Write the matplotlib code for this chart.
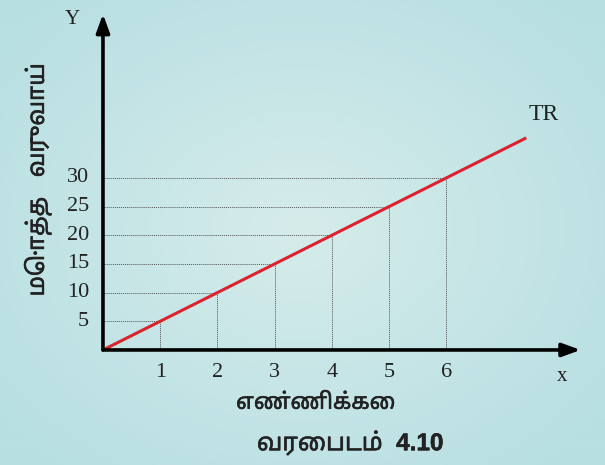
import numpy as np
import matplotlib
matplotlib.use("Agg")
import matplotlib.pyplot as plt
import matplotlib.patheffects as pe
from matplotlib import font_manager
from matplotlib import ft2font

# ---- data ----
quantity = [1, 2, 3, 4, 5, 6]
total_revenue = [5, 10, 15, 20, 25, 30]
tr_line_x = [0, 7.4]
tr_line_y = [0, 37]
x_tick_labels = ["1", "2", "3", "4", "5", "6"]
y_tick_labels = ["5", "10", "15", "20", "25", "30"]
x_label = "எண்ணிக்கை"
y_label = "மொத்த   வருவாய்"
title = "வரைபடம்  4.10"

# find a font with Tamil glyphs (prefer sans, bold)
cands = []
for f in font_manager.fontManager.ttflist:
    try:
        cm = ft2font.FT2Font(f.fname).get_charmap()
        if 0x0BAE in cm:
            score = 0
            if "sans" in f.name.lower():
                score += 2
            if f.weight in (700, "bold") or "bold" in f.fname.lower():
                score += 1
            cands.append((score, f.name))
    except Exception:
        pass
cands.sort(reverse=True)
tamil_fam = cands[0][1] if cands else None
tfam = ["Liberation Sans", tamil_fam, "DejaVu Sans"] if tamil_fam else ["Liberation Sans", "DejaVu Sans"]

fig = plt.figure(figsize=(6.05, 4.65), dpi=100)

# background gradient
bg = fig.add_axes([0, 0, 1, 1], zorder=0)
yy, xx = np.mgrid[0:465, 0:605]
d = np.sqrt(((xx - 300) / 380.0) ** 2 + ((yy - 230) / 300.0) ** 2)
d = np.clip(d, 0, 1)
c_in = np.array([214, 236, 235]) / 255.0
c_out = np.array([184, 223, 226]) / 255.0
img = c_in[None, None, :] * (1 - d[..., None]) + c_out[None, None, :] * d[..., None]
bg.imshow(img, aspect="auto", extent=[0, 1, 0, 1])
bg.axis("off")

ax = fig.add_axes([0, 0, 1, 1], zorder=1)
ax.patch.set_alpha(0)
ax.set_xlim(-1.80, 8.776)
ax.set_ylim(-20.07, 61.05)
ax.axis("off")

serif = "Liberation Serif"
txtc = "#222222"

# dotted guide lines
for xv, yv in zip(quantity, total_revenue):
    ax.plot([xv, xv], [0, yv], color="#555555", lw=0.7, ls=(0, (1, 1)), zorder=2)
    ax.plot([0, xv], [yv, yv], color="#555555", lw=0.7, ls=(0, (1, 1)), zorder=2)

# TR line
ax.plot(tr_line_x, tr_line_y, color="#d9232e", lw=2.2, zorder=3, solid_capstyle="butt")
ax.text(7.7, 41.0, "TR", fontsize=17, family=serif, color=txtc, ha="center", va="center")

# axes with arrows
ax.annotate("", xy=(8.35, 0), xytext=(0, 0),
            arrowprops=dict(arrowstyle="-|>,head_length=1.1,head_width=0.4", color="black", lw=2.6,
                            shrinkA=0, shrinkB=0), zorder=4)
ax.annotate("", xy=(0, 58.6), xytext=(0, 0),
            arrowprops=dict(arrowstyle="-|>,head_length=1.1,head_width=0.4", color="black", lw=2.6,
                            shrinkA=0, shrinkB=0), zorder=4)
ax.text(-0.54, 57.6, "Y", fontsize=15, family=serif, color=txtc, ha="center", va="center")
ax.text(8.03, -4.6, "x", fontsize=15, family=serif, color=txtc, ha="center", va="center")

# tick labels
for xv, lab in zip(quantity, x_tick_labels):
    ax.text(xv, -4.0, lab, fontsize=16, family=serif, color=txtc, ha="center", va="center")
for yv, lab in zip(total_revenue, y_tick_labels):
    ax.text(-0.24, yv, lab, fontsize=16, family=serif, color=txtc, ha="right", va="center")

# Tamil labels
bold_fx = [pe.withStroke(linewidth=0.4, foreground=txtc)]
ax.text(3.72, -9.3, x_label, fontsize=16, family=tfam, fontweight="bold", color=txtc,
        ha="center", va="center", path_effects=bold_fx)
ax.text(4.32, -16.2, title, fontsize=17.5, family=tfam, fontweight="bold", color=txtc,
        ha="center", va="center", path_effects=bold_fx)
ax.text(-1.14, 29.7, y_label, fontsize=17, family=tfam, fontweight="bold", color=txtc,
        ha="center", va="center", rotation=90, path_effects=bold_fx)

fig.savefig("out.png", dpi=100)
